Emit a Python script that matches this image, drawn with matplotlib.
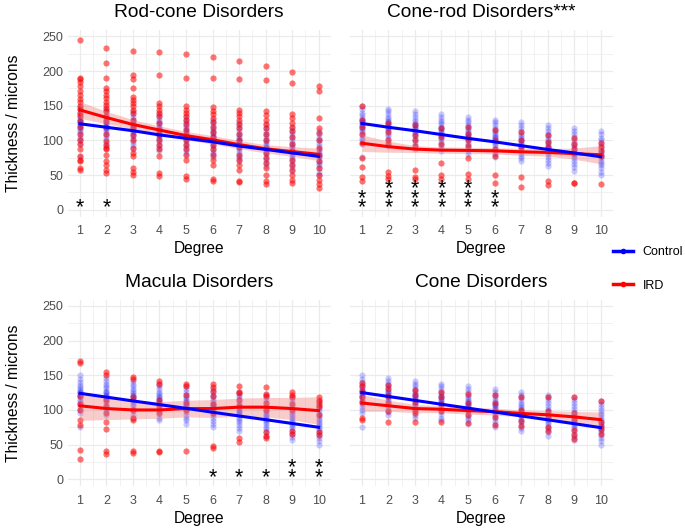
import matplotlib.pyplot as plt
from matplotlib.lines import Line2D
from matplotlib.ticker import MultipleLocator

plt.rcParams['font.family'] = ['Liberation Sans', 'DejaVu Sans']

degrees = [1, 2, 3, 4, 5, 6, 7, 8, 9, 10]

# control group thickness per degree (same cohort in every panel)
control = [
    [150, 145, 140, 136, 133, 130, 128, 126, 124, 122, 120, 118, 115, 112, 108, 104, 100, 95, 76],
    [146, 142, 138, 134, 131, 128, 126, 124, 122, 120, 118, 116, 113, 110, 106, 102, 97, 92],
    [142, 138, 134, 130, 127, 124, 122, 120, 118, 116, 114, 112, 109, 106, 102, 98, 93, 88],
    [138, 134, 130, 126, 123, 120, 118, 116, 114, 112, 110, 108, 105, 102, 98, 94, 89, 85],
    [134, 130, 126, 122, 119, 116, 113, 111, 109, 107, 105, 103, 100, 97, 93, 89, 85, 80],
    [130, 126, 122, 118, 115, 112, 109, 107, 105, 103, 101, 98, 95, 92, 88, 84, 80, 76],
    [126, 122, 118, 114, 110, 107, 104, 101, 99, 97, 95, 92, 89, 86, 82, 78, 74, 70],
    [122, 118, 114, 110, 106, 102, 99, 96, 93, 91, 89, 86, 83, 80, 76, 72, 68, 63],
    [118, 114, 110, 105, 101, 97, 94, 91, 88, 85, 83, 80, 77, 74, 70, 66, 61, 56],
    [113, 109, 104, 100, 96, 92, 88, 85, 82, 79, 77, 74, 71, 68, 64, 60, 55, 50],
]

# IRD thickness per degree
rodcone_ird = [
    [245, 190, 188, 184, 178, 172, 166, 160, 155, 150, 145, 140, 135, 128, 120, 110, 100, 95, 88, 78, 72, 70, 60, 57],
    [234, 211, 190, 175, 171, 166, 161, 156, 151, 147, 142, 135, 128, 120, 110, 99, 94, 89, 87, 79, 70, 65, 58, 53],
    [229, 195, 188, 175, 162, 159, 154, 149, 144, 139, 130, 120, 108, 101, 89, 82, 77, 60, 55, 50],
    [228, 195, 154, 149, 144, 139, 135, 125, 115, 108, 101, 94, 87, 77, 53, 48],
    [225, 190, 149, 144, 139, 135, 130, 123, 115, 108, 100, 94, 87, 79, 72, 48, 45],
    [220, 190, 148, 143, 138, 133, 127, 120, 112, 105, 94, 87, 79, 72, 64, 45, 42],
    [215, 188, 144, 139, 135, 130, 123, 118, 110, 100, 90, 79, 72, 65, 58, 42, 40],
    [208, 187, 142, 136, 130, 124, 118, 110, 100, 89, 82, 75, 67, 60, 50, 41, 37],
    [199, 183, 138, 132, 125, 120, 113, 105, 95, 85, 72, 65, 58, 50, 43, 38],
    [179, 171, 132, 118, 111, 100, 89, 79, 70, 60, 50, 43, 37, 32],
]
conerod_ird = [
    [150, 130, 120, 110, 97, 75, 62, 47, 42],
    [125, 112, 100, 95, 54, 49, 44],
    [122, 108, 100, 92, 57, 47, 45],
    [118, 105, 95, 68, 50, 44],
    [120, 110, 100, 92, 75, 51, 44],
    [115, 100, 88, 78, 50, 38],
    [112, 100, 90, 47, 33],
    [108, 98, 90, 42, 36],
    [104, 95, 88, 82, 39, 38],
    [97, 90, 85, 78, 37],
]
macula_ird = [
    [171, 167, 120, 108, 100, 86, 78, 42, 29],
    [155, 151, 115, 105, 95, 82, 72, 41, 37],
    [147, 144, 118, 100, 88, 85, 41, 38],
    [142, 138, 115, 105, 96, 41, 39],
    [138, 135, 122, 110, 100, 41],
    [137, 133, 128, 120, 108, 96, 48, 45],
    [135, 126, 124, 115, 105, 59, 54],
    [133, 123, 120, 110, 100, 68, 62, 59],
    [126, 122, 119, 108, 100, 70, 66],
    [119, 115, 112, 107, 104, 92, 68, 64],
]
cone_ird = [
    [139, 134, 128, 118, 112, 89, 85],
    [136, 130, 120, 110, 98, 83],
    [129, 122, 110, 100, 96, 82],
    [126, 118, 108, 98, 82],
    [123, 110, 100, 92, 81],
    [122, 110, 98, 90, 78],
    [119, 100, 92, 84, 77],
    [118, 98, 90, 76, 70],
    [118, 95, 85, 71, 64, 58],
    [113, 83, 77, 72, 66],
]

# smoothed fits
rodcone_ird_fit = [144, 133, 123, 115, 107, 101, 94, 88, 84, 80]
rodcone_ird_band = [12, 9, 7, 6, 6, 6, 6, 6, 7, 9]
rodcone_ctrl_fit = [124, 119, 114, 108, 103, 98, 92, 87, 82, 77]

conerod_ird_fit = [96, 91, 87.5, 86, 85.6, 85, 83.6, 82.7, 81, 79.3]
conerod_ird_band = [12, 8, 5, 4.5, 4.5, 4.5, 5, 5.5, 8, 13]
conerod_ctrl_fit = [124.5, 119, 114, 108.5, 103, 98, 92.5, 87, 82, 76.5]

macula_ird_fit = [106, 102, 100, 100, 102, 102, 104, 104, 102, 99]
macula_ird_band = [21, 16, 13, 12, 12, 13, 13, 14, 16, 20]
macula_ctrl_fit = [124, 118.5, 113, 107.7, 102.3, 96.7, 91.3, 86, 80.5, 75]

cone_ird_fit = [110, 106, 102, 101, 99, 97.6, 95, 93, 90, 86]
cone_ird_band = [12, 8, 6, 5, 5, 5, 5, 6, 8, 11]
cone_ctrl_fit = [125, 119.4, 113.8, 108.2, 102.6, 97, 91.4, 85.8, 80.2, 74.5]

# number of significance stars per degree
rodcone_stars = [1, 1, 0, 0, 0, 0, 0, 0, 0, 0]
conerod_stars = [2, 3, 3, 3, 3, 2, 0, 0, 0, 0]
macula_stars = [0, 0, 0, 0, 0, 1, 1, 1, 2, 2]
cone_stars = [0, 0, 0, 0, 0, 0, 0, 0, 0, 0]

W, H = 685, 531
fig = plt.figure(figsize=(W / 100, H / 100), dpi=100)

GRID = '#EBEBEB'
TICKC = '#4D4D4D'


def draw_panel(rect, title, ird, ird_fit, ird_band, ctrl_fit, stars, show_y):
    ax = fig.add_axes(rect)
    for d, vals in zip(degrees, control):
        ax.scatter([d] * len(vals), vals, s=20, color='#0000FF', alpha=0.2,
                   linewidths=0, zorder=2)
    for d, vals in zip(degrees, ird):
        ax.scatter([d] * len(vals), vals, s=20, color='#FF0000', alpha=0.55,
                   linewidths=0, zorder=3)
    lo = [f - b for f, b in zip(ird_fit, ird_band)]
    hi = [f + b for f, b in zip(ird_fit, ird_band)]
    ax.fill_between(degrees, lo, hi, color='#F08080', alpha=0.4, linewidth=0, zorder=4)
    ax.plot(degrees, ird_fit, color='#FF0000', lw=2.2, zorder=5)
    ax.plot(degrees, ctrl_fit, color='#0000FF', lw=2.2, zorder=6)
    for d, n in zip(degrees, stars):
        for k in range(n):
            ax.text(d, 11 + 14 * k - 16.5, '*', ha='center', va='baseline',
                    fontsize=15.5, color='black', zorder=7)

    ax.set_xlim(0.55, 10.45)
    ax.set_ylim(-10, 259)
    ax.set_xticks(degrees)
    ax.set_yticks([0, 50, 100, 150, 200, 250])
    ax.xaxis.set_minor_locator(MultipleLocator(0.5))
    ax.yaxis.set_minor_locator(MultipleLocator(25))
    ax.grid(True, which='major', color=GRID, lw=0.9)
    ax.grid(True, which='minor', color=GRID, lw=0.5)
    ax.set_axisbelow(True)
    for sp in ax.spines.values():
        sp.set_visible(False)
    ax.tick_params(which='both', length=0, labelsize=9, labelcolor=TICKC)
    ax.tick_params(axis='x', pad=6)
    ax.tick_params(axis='y', pad=3.5)
    if show_y:
        ax.set_ylabel('Thickness / microns', fontsize=11.2, labelpad=15)
    else:
        ax.set_yticklabels([])
    ax.set_xlabel('Degree', fontsize=11.2, labelpad=3)
    ax.set_title(title, fontsize=13.8, pad=9.5)
    return ax


wpx = 262.5
top_rect_y = 1 - 216.7 / H
bot_rect_y = 1 - 486.2 / H
hgt = 186.5 / H
draw_panel([68 / W, top_rect_y, wpx / W, hgt], 'Rod-cone Disorders',
           rodcone_ird, rodcone_ird_fit, rodcone_ird_band, rodcone_ctrl_fit, rodcone_stars, True)
draw_panel([350 / W, top_rect_y, wpx / W, hgt], 'Cone-rod Disorders***',
           conerod_ird, conerod_ird_fit, conerod_ird_band, conerod_ctrl_fit, conerod_stars, False)
draw_panel([68 / W, bot_rect_y, wpx / W, hgt], 'Macula Disorders',
           macula_ird, macula_ird_fit, macula_ird_band, macula_ctrl_fit, macula_stars, True)
draw_panel([350 / W, bot_rect_y, wpx / W, hgt], 'Cone Disorders',
           cone_ird, cone_ird_fit, cone_ird_band, cone_ctrl_fit, cone_stars, False)

handles = [Line2D([], [], color='#0000FF', lw=2.5, marker='o', markersize=3),
           Line2D([], [], color='#FF0000', lw=2.5, marker='o', markersize=3)]
fig.legend(handles, ['Control', 'IRD'], loc='center left',
           bbox_to_anchor=(613 / W, 1 - 269 / H), frameon=False, fontsize=9,
           borderpad=0, borderaxespad=0,
           handlelength=1.6, handletextpad=0.75, labelspacing=1.7)

fig.savefig('out.png', dpi=100)
